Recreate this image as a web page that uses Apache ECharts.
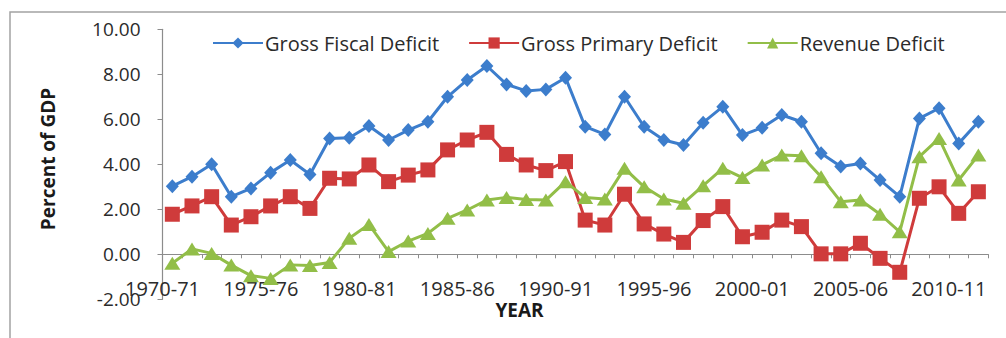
<!DOCTYPE html>
<html>
<head>
<meta charset="utf-8">
<title>Deficits as Percent of GDP</title>
<script src="https://cdn.jsdelivr.net/npm/echarts@6/dist/echarts.min.js"></script>
<style>
  html, body { margin: 0; padding: 0; background: #fff; }
  #chart { width: 1006px; height: 338px; }
</style>
</head>
<body>
<div id="chart"></div>
<script>
// Fiscal years on the category axis
var years = [
  '1970-71','1971-72','1972-73','1973-74','1974-75','1975-76','1976-77','1977-78',
  '1978-79','1979-80','1980-81','1981-82','1982-83','1983-84','1984-85','1985-86',
  '1986-87','1987-88','1988-89','1989-90','1990-91','1991-92','1992-93','1993-94',
  '1994-95','1995-96','1996-97','1997-98','1998-99','1999-00','2000-01','2001-02',
  '2002-03','2003-04','2004-05','2005-06','2006-07','2007-08','2008-09','2009-10',
  '2010-11','2011-12'
];

// Deficits, percent of GDP
var grossFiscalDeficit = [
  3.03, 3.45, 4.00, 2.56, 2.93, 3.63, 4.19, 3.55, 5.15, 5.18,
  5.70, 5.08, 5.52, 5.89, 7.00, 7.75, 8.37, 7.55, 7.26, 7.33,
  7.85, 5.67, 5.33, 7.00, 5.67, 5.08, 4.86, 5.85, 6.56, 5.30,
  5.63, 6.19, 5.89, 4.49, 3.90, 4.04, 3.30, 2.56, 6.04, 6.49,
  4.93, 5.89
];
var grossPrimaryDeficit = [
  1.78, 2.15, 2.56, 1.30, 1.67, 2.15, 2.56, 2.04, 3.38, 3.35,
  3.97, 3.23, 3.52, 3.75, 4.64, 5.08, 5.42, 4.44, 3.97, 3.72,
  4.12, 1.52, 1.30, 2.67, 1.35, 0.90, 0.53, 1.50, 2.12, 0.78,
  0.98, 1.52, 1.23, 0.02, 0.02, 0.49, -0.18, -0.80, 2.49, 3.00,
  1.82, 2.78
];
var revenueDeficit = [
  -0.40, 0.24, 0.04, -0.48, -0.95, -1.07, -0.47, -0.50, -0.36, 0.71,
  1.33, 0.12, 0.59, 0.93, 1.60, 1.97, 2.41, 2.53, 2.44, 2.41,
  3.23, 2.52, 2.46, 3.82, 3.00, 2.46, 2.27, 3.05, 3.82, 3.41,
  3.97, 4.41, 4.38, 3.45, 2.34, 2.41, 1.78, 1.00, 4.34, 5.15,
  3.30, 4.41
];

var FONT = '"Open Sans", "Liberation Sans", sans-serif';
var TEXT = '#2b2b2b';
var AXIS = '#8c8c8c';

var chart = echarts.init(document.getElementById('chart'), null, { renderer: 'svg' });

function lineSeries(name, data, color, symbol, size) {
  return {
    name: name,
    type: 'line',
    data: data,
    symbol: symbol,
    symbolSize: size,
    showAllSymbol: true,
    lineStyle: { color: color, width: 3 },
    itemStyle: { color: color },
    emphasis: { disabled: true },
    animation: false,
    z: 3
  };
}

chart.setOption({
  backgroundColor: '#ffffff',
  animation: false,
  grid: { left: 162.5, right: 17.8, top: 29.3, bottom: 38.7, containLabel: false },
  legend: {
    left: 207,
    top: 28,
    itemWidth: 50,
    itemHeight: 14,
    itemGap: 29,
    textStyle: { fontFamily: FONT, fontSize: 20, color: TEXT, padding: [0, 0, 0, -3] },
    data: ['Gross Fiscal Deficit', 'Gross Primary Deficit', 'Revenue Deficit']
  },
  xAxis: {
    type: 'category',
    data: years,
    boundaryGap: true,
    axisLine: { onZero: true, lineStyle: { color: AXIS, width: 1.2 } },
    axisTick: { show: true, interval: 0, length: 4, lineStyle: { color: AXIS } },
    axisLabel: {
      interval: 4,
      margin: -21,
      fontFamily: FONT,
      fontSize: 20,
      color: TEXT,
      padding: [0, 19.66, 0, 0]
    },
    splitLine: { show: false }
  },
  yAxis: {
    type: 'value',
    min: -2,
    max: 10,
    interval: 2,
    axisLine: { show: true, lineStyle: { color: AXIS, width: 1.2 } },
    axisTick: { show: true, length: 5, lineStyle: { color: AXIS } },
    axisLabel: {
      margin: 22,
      fontFamily: FONT,
      fontSize: 19,
      color: TEXT,
      formatter: function (v) { return v.toFixed(2); }
    },
    splitLine: { show: false }
  },
  graphic: [
    {
      type: 'rect',
      silent: true,
      shape: { x: 10, y: 12, width: 1010, height: 340 },
      style: { fill: 'none', stroke: '#a3a3a3', lineWidth: 1.5 },
      z: -1
    },
    {
      type: 'text',
      silent: true,
      x: 48,
      y: 159,
      rotation: Math.PI / 2,
      style: {
        text: 'Percent of GDP',
        fontFamily: FONT,
        fontSize: 19,
        fontWeight: 'bold',
        fill: '#1a1a1a',
        align: 'center',
        verticalAlign: 'middle'
      }
    },
    {
      type: 'text',
      silent: true,
      x: 519.5,
      y: 310,
      style: {
        text: 'YEAR',
        fontFamily: FONT,
        fontSize: 19,
        fontWeight: 'bold',
        fill: '#1a1a1a',
        align: 'center',
        verticalAlign: 'middle'
      }
    }
  ],
  series: [
    lineSeries('Gross Fiscal Deficit', grossFiscalDeficit, '#3c7dcc', 'diamond', [13, 14]),
    lineSeries('Gross Primary Deficit', grossPrimaryDeficit, '#cf3b3b', 'rect', 15),
    lineSeries('Revenue Deficit', revenueDeficit, '#92be48', 'triangle', [16, 13])
  ]
});
</script>
</body>
</html>
